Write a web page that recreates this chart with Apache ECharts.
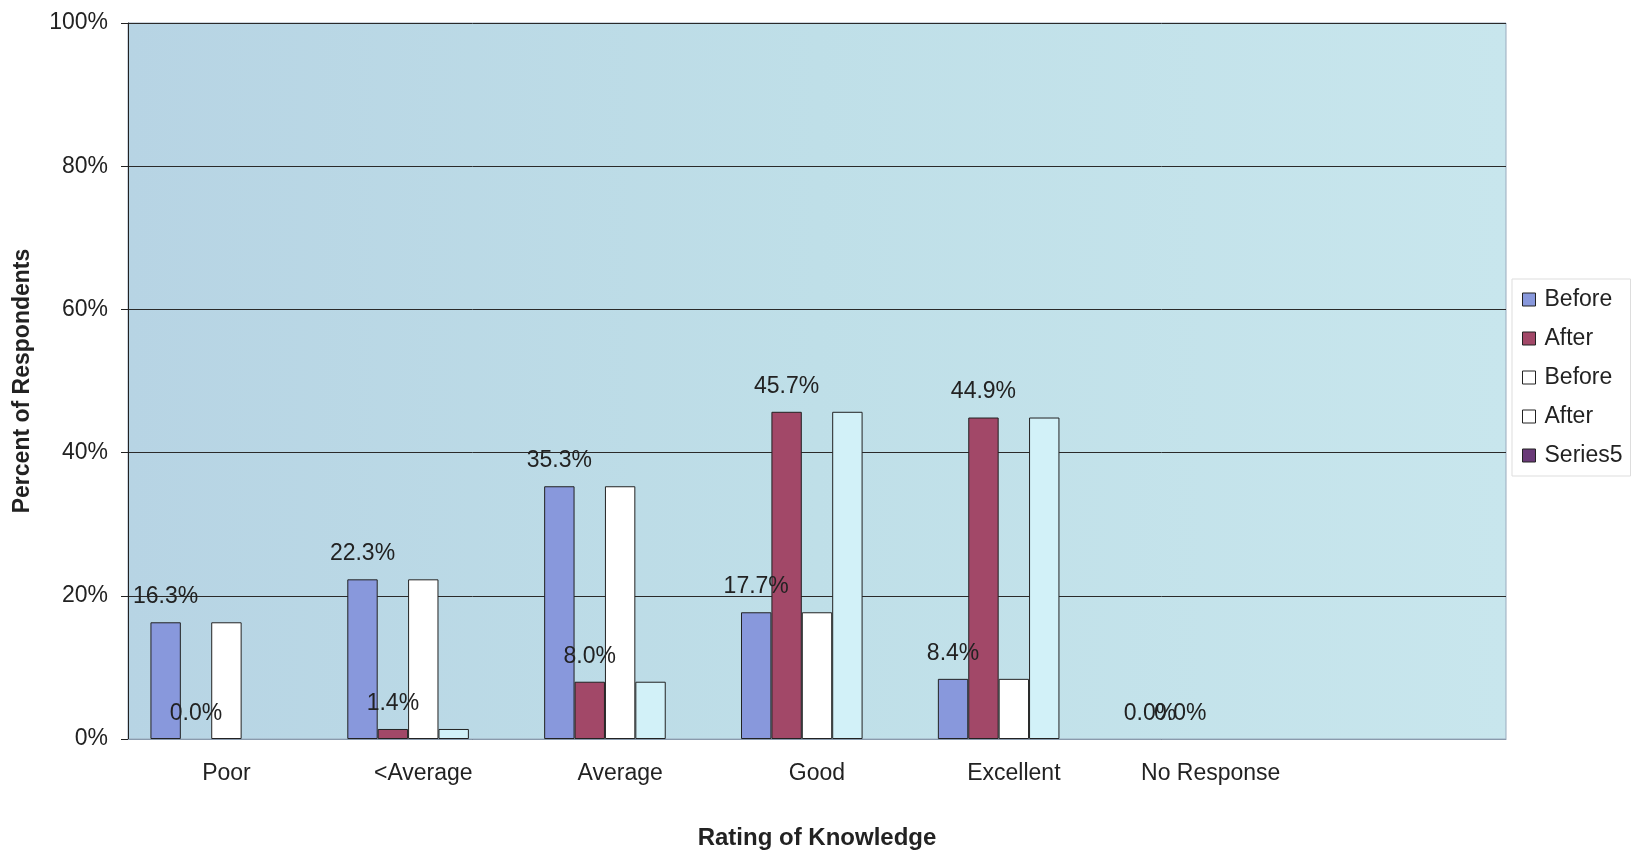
<!DOCTYPE html>
<html>
<head>
<meta charset="utf-8">
<script src="https://cdn.jsdelivr.net/npm/echarts@6/dist/echarts.min.js"></script>
<style>
html,body{margin:0;padding:0;background:#fff;}
#chart{width:1642px;height:852px;}
</style>
</head>
<body>
<div id="chart"></div>
<script>
var categories = ['Poor', '<Average', 'Average', 'Good', 'Excellent', 'No Response', ''];
var before = [16.3, 22.3, 35.3, 17.7, 8.4, 0.0, null];
var after = [0.0, 1.4, 8.0, 45.7, 44.9, 0.0, null];
var before2 = [16.3, 22.3, 35.3, 17.7, 8.4, 0.0, null];
var after2 = [0.0, 1.4, 8.0, 45.7, 44.9, 0.0, null];
var series5 = [null, null, null, null, null, null, null];
var yTicks = [0, 20, 40, 60, 80, 100];

var FONT = 'Liberation Sans, Arial, sans-serif';
var chart = echarts.init(document.getElementById('chart'));

function lbl(show) {
  return {
    show: show, position: 'top', distance: 14,
    fontFamily: FONT, fontSize: 23, color: '#222',
    formatter: function (p) { return p.value == null ? '' : p.value.toFixed(1) + '%'; }
  };
}
function bar(name, data, color, showLabel) {
  return {
    name: name, type: 'bar',
    data: data.map(function (v) {
      return v === 0 ? { value: v, itemStyle: { borderWidth: 0 } } : v;
    }),
    barGap: '0%', barCategoryGap: '22.8%',
    itemStyle: { color: color, borderColor: '#222', borderWidth: 1 },
    label: lbl(showLabel),
    emphasis: { disabled: true },
    animation: false
  };
}

chart.setOption({
  animation: false,
  grid: {
    left: 128, right: 136, top: 23, bottom: 113,
    outerBoundsMode: 'none',
    containLabel: false,
    show: true,
    backgroundColor: new echarts.graphic.LinearGradient(0, 0, 1, 0, [
      { offset: 0, color: '#b7d4e4' },
      { offset: 0.5, color: '#bfdfe8' },
      { offset: 1, color: '#c8e6ed' }
    ]),
    borderColor: '#9aabbd', borderWidth: 1
  },
  legend: {
    orient: 'vertical', left: 1512, top: 279,
    padding: [9, 8, 9, 10],
    backgroundColor: '#ffffff', borderColor: '#dddddd', borderWidth: 1,
    itemWidth: 13, itemHeight: 13, itemGap: 16,
    icon: 'rect',
    textStyle: { fontFamily: FONT, fontSize: 23, color: '#222', padding: [0, 0, 0, 4] },
    formatter: function (n) { return n.replace(' (2)', ''); },
    data: [
      { name: 'Before', itemStyle: { color: '#8898dc', borderColor: '#222', borderWidth: 1 } },
      { name: 'After', itemStyle: { color: '#a24868', borderColor: '#222', borderWidth: 1 } },
      { name: 'Before (2)', itemStyle: { color: '#ffffff', borderColor: '#222', borderWidth: 1 } },
      { name: 'After (2)', itemStyle: { color: '#ffffff', borderColor: '#222', borderWidth: 1 } },
      { name: 'Series5', itemStyle: { color: '#6a3a78', borderColor: '#222', borderWidth: 1 } }
    ],
    selectedMode: false
  },
  xAxis: {
    type: 'category', data: categories,
    name: 'Rating of Knowledge', nameLocation: 'middle', nameGap: 87,
    nameTextStyle: { fontFamily: FONT, fontSize: 24, fontWeight: 'bold', color: '#222' },
    axisLine: { lineStyle: { color: '#8a9aac', width: 1 } },
    axisTick: { show: false },
    axisLabel: { margin: 23, fontFamily: FONT, fontSize: 23, color: '#222', interval: 0 },
    splitLine: { show: false }
  },
  yAxis: {
    type: 'value', min: yTicks[0], max: yTicks[yTicks.length - 1], interval: yTicks[1] - yTicks[0],
    name: 'Percent of Respondents', nameLocation: 'middle', nameGap: 94, nameRotate: 90,
    nameTextStyle: { fontFamily: FONT, fontSize: 23, fontWeight: 'bold', color: '#222' },
    axisLine: { show: true, lineStyle: { color: '#222', width: 1 } },
    axisTick: { show: true, length: 7, lineStyle: { color: '#222' } },
    axisLabel: { margin: 20, fontFamily: FONT, fontSize: 23, color: '#222', formatter: '{value}%' },
    splitLine: { show: true, lineStyle: { color: '#2a2a2a', width: 1 } }
  },
  series: [
    bar('Before', before, '#8898dc', true),
    bar('After', after, '#a24868', true),
    bar('Before (2)', before2, '#ffffff', false),
    bar('After (2)', after2, '#d2f1f8', false),
    bar('Series5', series5, '#6a3a78', false)
  ]
});
</script>
</body>
</html>
